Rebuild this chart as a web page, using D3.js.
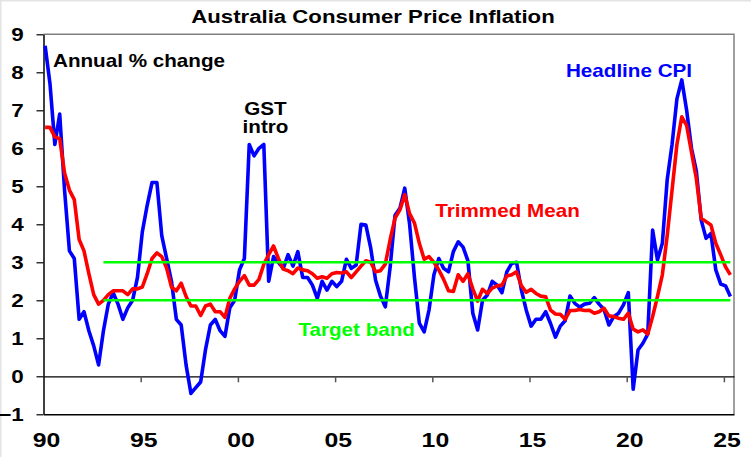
<!DOCTYPE html>
<html>
<head>
<meta charset="utf-8">
<script src="https://cdn.jsdelivr.net/npm/d3@7/dist/d3.min.js"></script>
<style>
    body { margin: 0; background: #fff; }
    svg text { font-family: "Liberation Sans", Arial, sans-serif; font-weight: bold; }
</style>
</head>
<body>
<div id="chart"></div>
<script>
// Quarterly series, annual % change, starting 1990 Q1
var startYear = 1990;

var headline = [
    8.7, 7.7, 6.1, 6.9,      // 1990
    4.9, 3.3, 3.1, 1.5,
    1.7, 1.2, 0.8, 0.3,
    1.2, 1.9, 2.2, 1.9,
    1.5, 1.8, 2.0, 2.6,
    3.8, 4.5, 5.1, 5.1,      // 1995
    3.7, 3.1, 2.5, 1.5,
    1.35, 0.3, -0.45, -0.3,
    -0.15, 0.7, 1.35, 1.5,
    1.2, 1.05, 1.8, 2.0,
    2.8, 3.1, 6.1, 5.8,      // 2000
    6.0, 6.1, 2.5, 3.15,
    3.0, 2.84, 3.2, 2.9,
    3.28, 2.6, 2.6, 2.4,
    2.05, 2.5, 2.27, 2.5,
    2.36, 2.5, 3.08, 2.84,   // 2005
    2.93, 4.0, 3.98, 3.37,
    2.53, 2.11, 1.83, 2.88,
    4.24, 4.42, 4.95, 4.0,
    2.6, 1.4, 1.17, 1.75,
    2.67, 3.1, 2.84, 2.75,   // 2010
    3.28, 3.54, 3.4, 3.04,
    1.66, 1.22, 2.0, 2.14,
    2.5, 2.4, 2.2, 2.75,
    2.97, 3.0, 2.27, 1.74,
    1.32, 1.5, 1.5, 1.7,     // 2015
    1.39, 1.03, 1.32, 1.46,
    2.11, 1.92, 1.82, 1.9,
    1.92, 2.07, 1.9, 1.76,
    1.35, 1.57, 1.66, 1.88,
    2.2, -0.34, 0.69, 0.87,  // 2020
    1.11, 3.85, 3.06, 3.5,
    5.17, 6.1, 7.3, 7.8,
    7.0, 6.0, 5.4, 4.11,
    3.63, 3.76, 2.8, 2.43,
    2.38, 2.1                // 2025
];

var trimmedMean = [
    6.55, 6.55, 6.3, 6.25,   // 1990
    5.35, 4.9, 4.65, 3.6,
    3.3, 2.7, 2.15, 1.9,
    2.0, 2.15, 2.25, 2.25,
    2.25, 2.15, 2.3, 2.3,
    2.35, 2.7, 3.1, 3.25,    // 1995
    3.15, 2.85, 2.35, 2.25,
    2.45, 2.1, 1.85, 1.85,
    1.6, 1.85, 1.9, 1.7,
    1.7, 1.55, 2.05, 2.3,
    2.5, 2.65, 2.4, 2.4,     // 2000
    2.55, 2.95, 3.2, 3.43,
    3.1, 2.82, 2.78, 2.7,
    2.85, 2.8, 2.78, 2.7,
    2.58, 2.62, 2.58, 2.7,
    2.73, 2.72, 2.75, 2.6,   // 2005
    2.75, 2.9, 3.04, 3.0,
    2.75, 2.78, 2.95, 3.6,
    4.16, 4.38, 4.78, 4.28,
    4.03, 3.5, 3.08, 3.15,
    3.0, 2.8, 2.55, 2.25,    // 2010
    2.23, 2.67, 2.5, 2.7,
    2.3, 1.98, 2.29, 2.18,
    2.32, 2.38, 2.4, 2.64,
    2.67, 2.75, 2.38, 2.21,
    2.29, 2.18, 2.11, 2.09,  // 2015
    1.74, 1.64, 1.63, 1.5,
    1.73, 1.73, 1.76, 1.73,
    1.74, 1.66, 1.7, 1.79,
    1.59, 1.57, 1.53, 1.5,
    1.66, 1.24, 1.17, 1.22,  // 2020
    1.11, 1.57, 2.1, 2.67,
    3.7, 4.9, 6.1, 6.83,
    6.6, 5.9, 5.2, 4.16,
    4.07, 3.98, 3.5, 3.2,
    2.88, 2.67               // 2025
];

// RBA target band, drawn from 1993 Q1
var targetBand = [2, 3];
var targetStartIndex = 12;

var xTickYears = [1990, 1995, 2000, 2005, 2010, 2015, 2020, 2025];
var xTickLabels = ["90", "95", "00", "05", "10", "15", "20", "25"];
var yTicks = [-1, 0, 1, 2, 3, 4, 5, 6, 7, 8, 9];

var width = 751, height = 457;
var plot = { left: 43.5, right: 734, top: 34.3, bottom: 414.3 };
var stretch = 1.18; // text in the source is drawn a bit wide

// quarter index -> decimal year (plotted at middle month of quarter start)
function qTime(i) { return startYear + i / 4 + 1 / 12; }

var svg = d3.select("#chart")
    .append("svg")
    .attr("width", width)
    .attr("height", height);

svg.append("rect")
    .attr("width", width).attr("height", height)
    .attr("fill", "#fff");

// faint frame at the top and left edge of the picture
svg.append("line").attr("x1", 0).attr("x2", width).attr("y1", 0.5).attr("y2", 0.5)
    .attr("stroke", "#e4e4e4").attr("stroke-width", 2);
svg.append("line").attr("x1", 0.5).attr("x2", 0.5).attr("y1", 0).attr("y2", height)
    .attr("stroke", "#e4e4e4").attr("stroke-width", 2);

var x = d3.scaleLinear()
    .domain([1990, 2025.52])
    .range([plot.left, plot.right]);

var y = d3.scaleLinear()
    .domain([-1, 9])
    .range([plot.bottom, plot.top]);

// grey top and right border
svg.append("path")
    .attr("d", "M" + plot.left + "," + plot.top + "H" + plot.right + "V" + plot.bottom)
    .attr("fill", "none")
    .attr("stroke", "#808080")
    .attr("stroke-width", 1.5);

// y axis
var yAxis = svg.append("g")
    .attr("transform", "translate(" + plot.left + ",0)")
    .call(d3.axisLeft(y).tickValues(yTicks).tickSize(7).tickSizeOuter(0).tickPadding(9.8));
yAxis.select(".domain").attr("stroke", "#000").attr("stroke-width", 1.5);
yAxis.selectAll(".tick line").attr("stroke", "#000").attr("stroke-width", 1.2);
yAxis.selectAll(".tick text")
    .style("font-size", "19px")
    .attr("fill", "#000")
    .attr("transform", "scale(" + stretch + ",1)");

// x labels along the bottom edge
var xAxis = svg.append("g")
    .attr("transform", "translate(0," + plot.bottom + ")")
    .call(d3.axisBottom(x)
        .tickValues(xTickYears)
        .tickFormat(function (d, i) { return xTickLabels[i]; })
        .tickSize(0)
        .tickSizeOuter(0)
        .tickPadding(17.5));
xAxis.select(".domain").attr("stroke", "#000").attr("stroke-width", 1.5);
xAxis.selectAll(".tick text")
    .style("font-size", "21px")
    .attr("fill", "#000")
    .attr("dx", 2.2)
    .attr("transform", "scale(" + stretch + ",1)");

// zero line with small ticks hanging down
var zeroAxis = svg.append("g")
    .attr("transform", "translate(0," + y(0) + ")")
    .call(d3.axisBottom(x)
        .tickValues(xTickYears.slice(1))
        .tickFormat("")
        .tickSize(6)
        .tickSizeOuter(0));
zeroAxis.select(".domain").attr("stroke", "#000").attr("stroke-width", 1.2);
zeroAxis.selectAll(".tick line").attr("stroke", "#555").attr("stroke-width", 1.5);

var line = d3.line()
    .x(function (d, i) { return x(qTime(i)); })
    .y(function (d) { return y(d); });

svg.append("path")
    .datum(headline)
    .attr("d", line)
    .attr("fill", "none")
    .attr("stroke", "#0000ff")
    .attr("stroke-width", 3.6)
    .attr("stroke-linejoin", "round");

svg.append("path")
    .datum(trimmedMean)
    .attr("d", line)
    .attr("fill", "none")
    .attr("stroke", "#ff0000")
    .attr("stroke-width", 3.6)
    .attr("stroke-linejoin", "round");

// target band lines
svg.selectAll(".band")
    .data(targetBand)
    .join("line")
    .attr("class", "band")
    .attr("x1", x(qTime(targetStartIndex)))
    .attr("x2", x(qTime(headline.length - 1)))
    .attr("y1", function (d) { return y(d); })
    .attr("y2", function (d) { return y(d); })
    .attr("stroke", "#00ff00")
    .attr("stroke-width", 2.6);

// text labels
function note(txt, px, py, color, anchor, size) {
    svg.append("text")
        .attr("transform", "translate(" + px + "," + py + ") scale(" + stretch + ",1)")
        .attr("text-anchor", anchor)
        .attr("fill", color)
        .style("font-size", size + "px")
        .text(txt);
}

note("Australia Consumer Price Inflation", 373, 23, "#000", "middle", 18.8);
note("Annual % change", 53, 66.7, "#000", "start", 17.5);
note("GST", 265.5, 115, "#000", "middle", 17.5);
note("intro", 265.5, 133.3, "#000", "middle", 17.5);
note("Headline CPI", 629, 77, "#0000ff", "middle", 17.5);
note("Trimmed Mean", 507.5, 216.7, "#ff0000", "middle", 17.5);
note("Target band", 356.7, 336, "#00ff00", "middle", 17.5);
</script>
</body>
</html>
